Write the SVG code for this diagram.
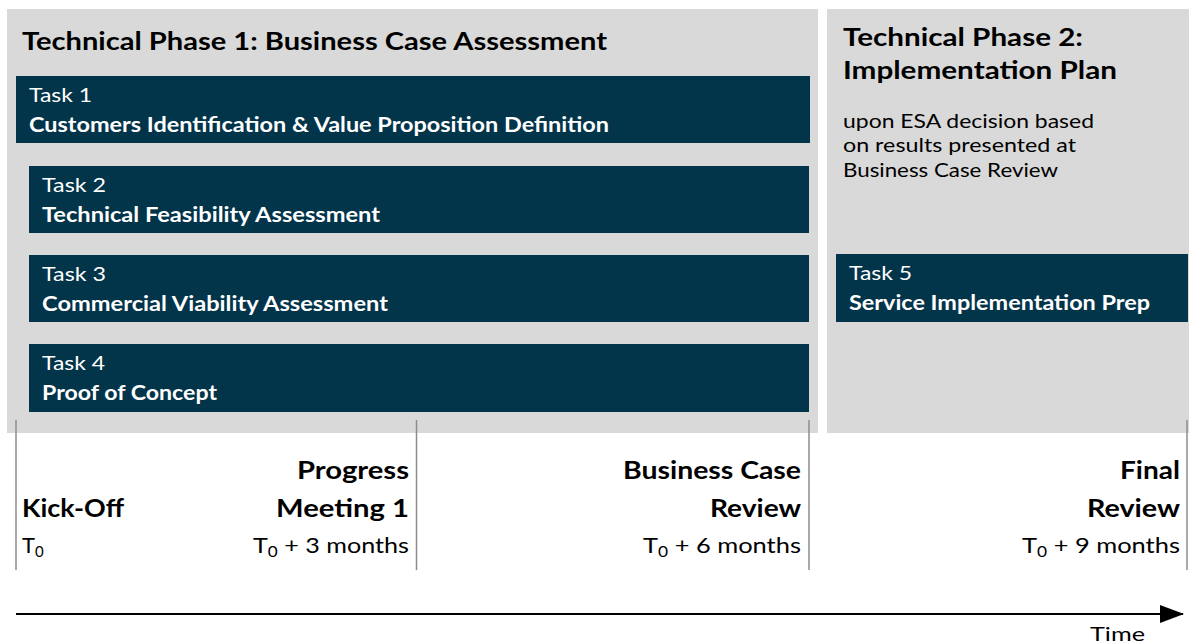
<svg xmlns="http://www.w3.org/2000/svg" width="1189" height="644" viewBox="0 0 1189 644">
<style>
.panel{fill:#D9D9D9}
.task{fill:#02344A}
.t{font-family:Lato,"Open Sans","Liberation Sans",sans-serif}
.title{font-size:25px;font-weight:bold;fill:#000}
.tl{font-size:20px;fill:#fff}
.tb{font-size:21px;font-weight:bold;fill:#fff}
.note{font-size:20px;fill:#000}
.ms{font-size:25px;font-weight:bold;fill:#000}
.md{font-size:22px;fill:#000}
.sub{font-size:15px}
.tick{stroke:#8C8C8C;stroke-width:1.5}
</style>
<defs>
<marker id="ah" markerWidth="24" markerHeight="18" refX="23" refY="9" orient="auto" markerUnits="userSpaceOnUse">
<path d="M0,0 L24,9 L0,18 Z" fill="#000"/>
</marker>
</defs>
<g id="phase1">
<rect class="panel" x="7" y="9" width="811" height="424"/>
<text class="t title" x="22" y="50" textLength="585" lengthAdjust="spacingAndGlyphs">Technical Phase 1: Business Case Assessment</text>
</g>
<g id="phase2">
<rect class="panel" x="827" y="9" width="362" height="424"/>
<text class="t title" x="843" y="46" textLength="240" lengthAdjust="spacingAndGlyphs">Technical Phase 2:</text>
<text class="t title" x="843" y="79" textLength="274" lengthAdjust="spacingAndGlyphs">Implementation Plan</text>
<text class="t note" x="843" y="128" textLength="251" lengthAdjust="spacingAndGlyphs">upon ESA decision based</text>
<text class="t note" x="843" y="152" textLength="233" lengthAdjust="spacingAndGlyphs">on results presented at</text>
<text class="t note" x="843" y="177" textLength="215" lengthAdjust="spacingAndGlyphs">Business Case Review</text>
</g>
<g id="task1">
<rect class="task" x="16" y="76" width="794" height="67"/>
<text class="t tl" x="29" y="102" textLength="63" lengthAdjust="spacingAndGlyphs">Task 1</text>
<text class="t tb" x="29" y="132" textLength="580" lengthAdjust="spacingAndGlyphs">Customers Identification &amp; Value Proposition Definition</text>
</g>
<g id="task2">
<rect class="task" x="29" y="166" width="780" height="67"/>
<text class="t tl" x="42" y="192" textLength="64" lengthAdjust="spacingAndGlyphs">Task 2</text>
<text class="t tb" x="42" y="222" textLength="338" lengthAdjust="spacingAndGlyphs">Technical Feasibility Assessment</text>
</g>
<g id="task3">
<rect class="task" x="29" y="255" width="780" height="67"/>
<text class="t tl" x="42" y="281" textLength="64" lengthAdjust="spacingAndGlyphs">Task 3</text>
<text class="t tb" x="42" y="311" textLength="346" lengthAdjust="spacingAndGlyphs">Commercial Viability Assessment</text>
</g>
<g id="task4">
<rect class="task" x="29" y="344" width="780" height="68"/>
<text class="t tl" x="42" y="370" textLength="63" lengthAdjust="spacingAndGlyphs">Task 4</text>
<text class="t tb" x="42" y="400" textLength="175" lengthAdjust="spacingAndGlyphs">Proof of Concept</text>
</g>
<g id="task5">
<rect class="task" x="836" y="254" width="352" height="68"/>
<text class="t tl" x="849" y="280" textLength="63" lengthAdjust="spacingAndGlyphs">Task 5</text>
<text class="t tb" x="849" y="310" textLength="301" lengthAdjust="spacingAndGlyphs">Service Implementation Prep</text>
</g>
<g id="connectors">
<line class="tick" x1="16" y1="420" x2="16" y2="570"/>
<line class="tick" x1="416.5" y1="420" x2="416.5" y2="570"/>
<line class="tick" x1="809" y1="420" x2="809" y2="570"/>
<line class="tick" x1="1187" y1="420" x2="1187" y2="570"/>
<line x1="16" y1="614" x2="1183" y2="614" stroke="#000" stroke-width="2" marker-end="url(#ah)"/>
</g>
<g id="m-kickoff">
<text class="t ms" x="22" y="517" textLength="102" lengthAdjust="spacingAndGlyphs">Kick-Off</text>
<text class="t md" x="22" y="553">T<tspan class="sub" dy="4">0</tspan></text>
</g>
<g id="m-progress">
<text class="t ms" x="409" y="479" text-anchor="end" textLength="112" lengthAdjust="spacingAndGlyphs">Progress</text>
<text class="t ms" x="409" y="517" text-anchor="end" textLength="133" lengthAdjust="spacingAndGlyphs">Meeting 1</text>
<text class="t md" x="409" y="553" text-anchor="end" textLength="156" lengthAdjust="spacingAndGlyphs">T<tspan class="sub" dy="4">0</tspan><tspan dy="-4"> + 3 months</tspan></text>
</g>
<g id="m-bcr">
<text class="t ms" x="801" y="479" text-anchor="end" textLength="178" lengthAdjust="spacingAndGlyphs">Business Case</text>
<text class="t ms" x="801" y="517" text-anchor="end" textLength="91" lengthAdjust="spacingAndGlyphs">Review</text>
<text class="t md" x="801" y="553" text-anchor="end" textLength="158" lengthAdjust="spacingAndGlyphs">T<tspan class="sub" dy="4">0</tspan><tspan dy="-4"> + 6 months</tspan></text>
</g>
<g id="m-final">
<text class="t ms" x="1180" y="479" text-anchor="end" textLength="60" lengthAdjust="spacingAndGlyphs">Final</text>
<text class="t ms" x="1180" y="517" text-anchor="end" textLength="93" lengthAdjust="spacingAndGlyphs">Review</text>
<text class="t md" x="1180" y="553" text-anchor="end" textLength="158" lengthAdjust="spacingAndGlyphs">T<tspan class="sub" dy="4">0</tspan><tspan dy="-4"> + 9 months</tspan></text>
</g>
<g id="time-label">
<text class="t note" x="1090" y="641" font-size="21" textLength="55" lengthAdjust="spacingAndGlyphs">Time</text>
</g>
</svg>
